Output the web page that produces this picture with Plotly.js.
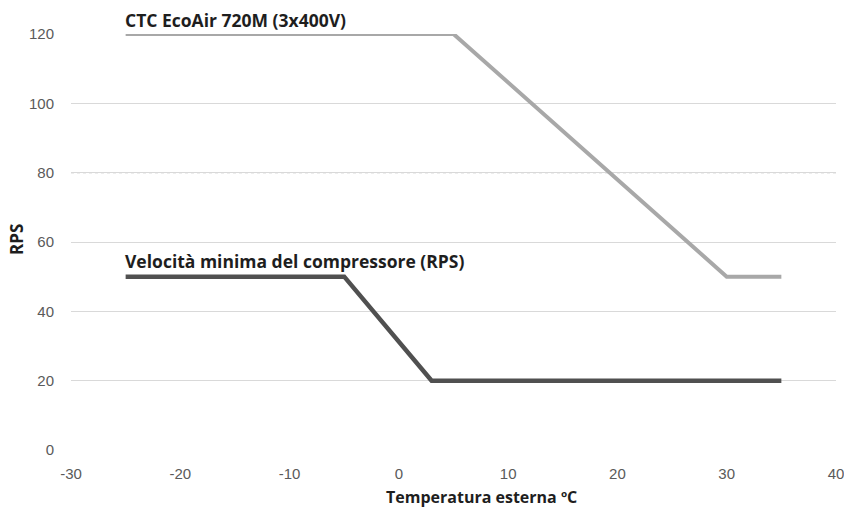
<!DOCTYPE html>
<html>
<head>
<meta charset="utf-8">
<script src="https://cdn.plot.ly/plotly-3.0.1.min.js"></script>
<style>html,body{margin:0;padding:0;background:#fff;}#chart{width:844px;height:510px;}</style>
</head>
<body>
<div id="chart"></div>
<script>
// Data
var maxTemp = [-25, 5, 30, 35];
var maxRps = [120, 120, 50, 50];
var minTemp = [-25, -5, 3, 35];
var minRps = [50, 50, 20, 20];
var maxLabel = "CTC EcoAir 720M (3x400V)";
var minLabel = "Velocità minima del compressore (RPS)";
var xTitle = "Temperatura esterna ºC";
var yTitle = "RPS";
var xTicks = [-30, -20, -10, 0, 10, 20, 30, 40];
var yTicks = [0, 20, 40, 60, 80, 100, 120];
var refLine = 80;

var traces = [
  {x: maxTemp, y: maxRps, mode: "lines", line: {color: "#a8a8a8", width: 4}, cliponaxis: false, hoverinfo: "x+y"},
  {x: minTemp, y: minRps, mode: "lines", line: {color: "#505050", width: 4.5}, cliponaxis: false, hoverinfo: "x+y"}
];

var tickFont = {family: "Liberation Sans, Arial, sans-serif", size: 15, color: "#5a5a5a"};
var boldFont = {family: "Open Sans, Noto Sans, sans-serif", size: 17.5, color: "#1e1e1e", weight: 700};

var layout = {
  width: 844, height: 510,
  margin: {l: 71, r: 8, t: 34, b: 60},
  paper_bgcolor: "#fff", plot_bgcolor: "#fff",
  showlegend: false,
  xaxis: {
    range: [-30, 40], tickvals: xTicks, ticktext: xTicks.map(String),
    showgrid: false, zeroline: false, showline: false, ticks: "",
    tickfont: tickFont, ticklabelstandoff: 13, ticklabeloverflow: "allow", automargin: false
  },
  yaxis: {
    range: [0, 120], tickvals: yTicks, ticktext: yTicks.map(String),
    showgrid: true, gridcolor: "#d9d9d9", gridwidth: 1, zeroline: false, showline: false, ticks: "",
    tickfont: tickFont, ticklabelstandoff: 16, ticklabeloverflow: "allow", automargin: false
  },
  shapes: [
    {type: "line", xref: "paper", x0: 0, x1: 1, yref: "y", y0: refLine, y1: refLine,
     line: {color: "#8a8a8a", width: 1, dash: "dot"}, layer: "below"}
  ],
  annotations: [
    {x: maxTemp[0], y: maxRps[0], xref: "x", yref: "y", text: maxLabel, showarrow: false,
     xanchor: "left", yanchor: "bottom", xshift: -3, yshift: 0, font: boldFont},
    {x: minTemp[0], y: minRps[0], xref: "x", yref: "y", text: minLabel, showarrow: false,
     xanchor: "left", yanchor: "bottom", xshift: -3, yshift: 2, font: boldFont},
    {x: 0.537, y: 0, xref: "paper", yref: "paper", text: xTitle, showarrow: false,
     xanchor: "center", yanchor: "middle", yshift: -47,
     font: {family: "Open Sans, Noto Sans, sans-serif", size: 16, color: "#1e1e1e", weight: 700}},
    {x: 0, y: 0.5, xref: "paper", yref: "paper", text: yTitle, showarrow: false, textangle: -90,
     xanchor: "center", yanchor: "middle", xshift: -55, yshift: 2,
     font: {family: "Open Sans, Noto Sans, sans-serif", size: 17, color: "#1e1e1e", weight: 700}}
  ]
};

Plotly.newPlot("chart", traces, layout, {displayModeBar: false, staticPlot: true});
</script>
</body>
</html>
